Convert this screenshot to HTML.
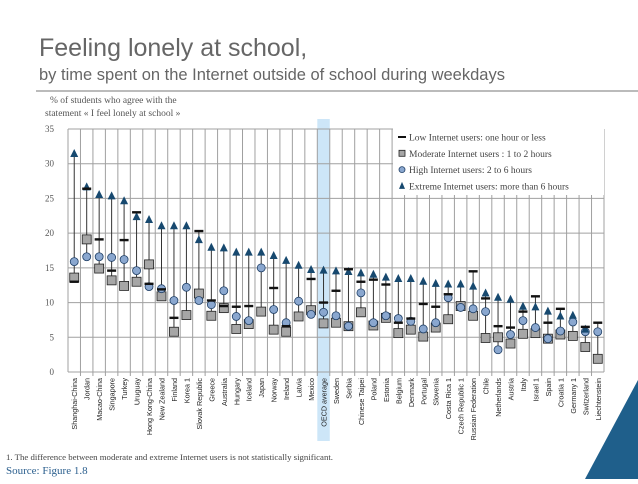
<!DOCTYPE html>
<html><head><meta charset="utf-8"><style>
body{margin:0;width:638px;height:479px;overflow:hidden;background:#fff;font-family:"Liberation Sans",sans-serif}
</style></head><body>
<svg id="c" width="638" height="479" xmlns="http://www.w3.org/2000/svg">
<text x="39" y="56" font-size="25" fill="#666" font-family="Liberation Sans">Feeling lonely at school,</text>
<text x="39" y="80" font-size="16.5" fill="#666" font-family="Liberation Sans">by time spent on the Internet outside of school during weekdays</text>
<line x1="36" y1="91" x2="638" y2="91" stroke="#777" stroke-width="1"/>
<text x="50" y="103" font-size="9.5" fill="#555" font-family="Liberation Serif">% of students who agree with the</text>
<text x="45" y="116" font-size="9.5" fill="#555" font-family="Liberation Serif">statement « I feel lonely at school »</text>
<g id="plot"></g>
<text x="6" y="460" font-size="8.8" fill="#444" font-family="Liberation Serif">1. The difference between moderate and extreme Internet users is not statistically significant.</text>
<text x="6" y="474" font-size="11" fill="#2b5f8e" font-family="Liberation Serif">Source: Figure 1.8</text>
<polygon points="638,380 638,479 585,479" fill="#1f5f8b"/>
</svg>
<script>
const categories=["Shanghai-China","Jordan","Macao-China","Singapore","Turkey","Uruguay","Hong Kong-China","New Zealand","Finland","Korea 1","Slovak Republic","Greece","Australia","Hungary","Iceland","Japan","Norway","Ireland","Latvia","Mexico","OECD average","Sweden","Serbia","Chinese Taipei","Poland","Estonia","Belgium","Denmark","Portugal","Slovenia","Costa Rica 1","Czech Republic 1","Russian Federation","Chile","Netherlands","Austria","Italy","Israel 1","Spain","Croatia 1","Germany 1","Switzerland","Liechtenstein"];
const lowUsers=[13.0,26.4,19.1,14.6,19.0,23.0,12.7,11.9,7.8,null,20.3,10.3,9.5,9.4,9.5,null,12.1,6.6,null,13.4,10.0,11.7,14.8,13.0,13.3,12.6,7.1,7.7,9.8,9.4,11.2,null,14.5,10.6,6.6,6.4,8.7,10.9,7.1,9.1,null,6.5,7.1];
const moderateUsers=[13.6,19.1,14.9,13.2,12.4,13.0,15.5,10.9,5.8,8.2,11.3,8.1,9.2,6.2,6.9,8.7,6.1,5.8,8.0,8.9,7.0,7.1,6.6,8.6,6.7,7.8,5.6,6.1,5.1,6.4,7.6,9.5,8.1,4.9,5.0,4.1,5.5,5.6,4.8,5.4,5.2,3.6,1.9];
const highUsers=[15.9,16.6,16.6,16.5,16.2,14.6,12.3,12.0,10.3,12.2,10.3,9.7,11.7,8.0,7.4,15.0,9.0,7.1,10.2,8.3,8.6,8.1,6.6,11.4,7.1,8.1,7.7,7.3,6.2,7.1,10.7,9.3,9.1,8.7,3.2,5.4,7.4,6.4,4.8,5.9,7.2,5.8,5.8];
const extremeUsers=[31.4,26.6,25.5,25.3,24.6,22.3,21.9,21.0,21.0,21.0,19.0,17.9,17.8,17.2,17.2,17.2,16.7,16.0,15.3,14.7,14.6,14.5,14.4,14.2,14.0,13.6,13.4,13.4,13.0,12.7,12.6,12.6,12.3,11.3,10.7,10.4,9.4,9.3,8.7,8.0,8.1,6.1,null];
const yTicks=[0,5,10,15,20,25,30,35];
const NS="http://www.w3.org/2000/svg";
const g=document.getElementById('plot');
const L=68,R=604,T=129,B=372,YMAX=35;
const n=categories.length,w=(R-L)/n;
const x=i=>L+(i+0.5)*w;
const y=v=>B-(v/YMAX)*(B-T);
function mk(t,a){const e=document.createElementNS(NS,t);for(const k in a)e.setAttribute(k,a[k]);g.appendChild(e);return e;}
let e;
const oi=categories.indexOf("OECD average");
e=mk('rect',{x:L+oi*w,y:119,width:w,height:322,fill:'#cde6f8'});


yTicks.forEach(t=>{
 e=mk('line',{x1:L,x2:R,y1:y(t),y2:y(t),stroke:'#a0a0a0','stroke-width':1});
 
 
 e=mk('text',{x:54,y:y(t)+3,'font-size':9,fill:'#555','text-anchor':'end','font-family':'Liberation Serif'});
 e.textContent=t;
 
 
});
for(let i=0;i<=n;i++){
 e=mk('line',{x1:L+i*w,x2:L+i*w,y1:T,y2:B+(i==0||i==n?0:4),stroke:'#a0a0a0','stroke-width':1});
 
 
}
categories.forEach((c,i)=>{
 const cx=x(i);
 const vals=[lowUsers[i],moderateUsers[i],highUsers[i],extremeUsers[i]].filter(v=>v!=null);
 const mx=Math.max(...vals),mn=Math.min(...vals);
 e=mk('line',{x1:cx,x2:cx,y1:y(mx),y2:y(mn),stroke:'#333','stroke-width':1});
 
 
 if(moderateUsers[i]!=null){
  e=mk('rect',{x:cx-4.5,y:y(moderateUsers[i])-4.5,width:9,height:9,fill:'#a6a6a6',stroke:'#222','stroke-width':0.8});
  
  
 }
 if(highUsers[i]!=null){
  e=mk('circle',{cx:cx,cy:y(highUsers[i]),r:4,fill:'#8aa7cf',stroke:'#1f3f66','stroke-width':0.8});
  
  
 }
 if(extremeUsers[i]!=null){
  const yy=y(extremeUsers[i]);
  e=mk('polygon',{points:`${cx},${yy-5} ${cx-4},${yy+3} ${cx+4},${yy+3}`,fill:'#17496f'});
  
  
 }
 if(lowUsers[i]!=null){
  e=mk('rect',{x:cx-4.5,y:y(lowUsers[i])-1.2,width:9,height:2.4,fill:'#111'});
  
  
 }
 e=mk('text',{transform:`translate(${cx+3},${B+6}) rotate(-90)`,'font-size':7.2,fill:'#222','text-anchor':'end'});
 e.textContent=c;
 
 
});
e=mk('rect',{x:393,y:127,width:211,height:68,fill:'#fff'});


const leg=[["Low Internet users: one hour or less",'low'],["Moderate Internet users : 1 to 2 hours",'mod'],["High Internet users: 2 to 6 hours",'high'],["Extreme Internet users: more than 6 hours",'ext']];
leg.forEach((l,k)=>{
 const ly=137+k*16.3,lx=402;
 if(l[1]=='low')e=mk('rect',{x:lx-4,y:ly-1,width:8,height:2,fill:'#111'});
 if(l[1]=='mod')e=mk('rect',{x:lx-3,y:ly-3,width:6,height:6,fill:'#a6a6a6',stroke:'#222','stroke-width':0.8});
 if(l[1]=='high')e=mk('circle',{cx:lx,cy:ly,r:3,fill:'#8aa7cf',stroke:'#1f3f66','stroke-width':0.8});
 if(l[1]=='ext')e=mk('polygon',{points:`${lx},${ly-4} ${lx-3},${ly+3} ${lx+3},${ly+3}`,fill:'#17496f'});
 
 
 e=mk('text',{x:lx+7,y:ly+3.5,'font-size':9.5,fill:'#444','font-family':'Liberation Serif'});
 e.textContent=l[0];
 
 
});
</script>
</body></html>
